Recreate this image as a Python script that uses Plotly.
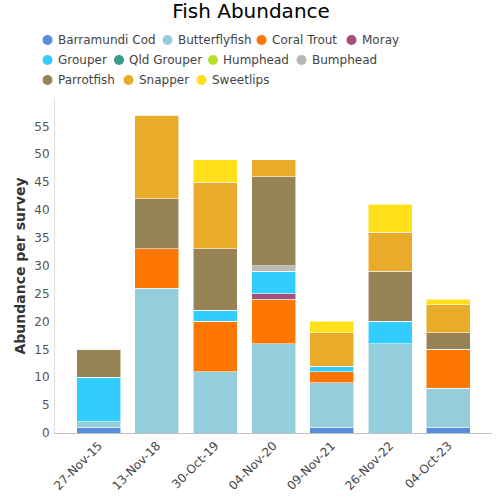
import plotly.graph_objects as go

dates = ["27-Nov-15", "13-Nov-18", "30-Oct-19", "04-Nov-20", "09-Nov-21", "26-Nov-22", "04-Oct-23"]

barramundi_cod = [1, 0, 0, 0, 1, 0, 1]
butterflyfish = [1, 26, 11, 16, 8, 16, 7]
coral_trout = [0, 7, 9, 8, 2, 0, 7]
moray = [0, 0, 0, 1, 0, 0, 0]
grouper = [8, 0, 2, 4, 1, 4, 0]
qld_grouper = [0, 0, 0, 0, 0, 0, 0]
humphead = [0, 0, 0, 0, 0, 0, 0]
bumphead = [0, 0, 0, 1, 0, 0, 0]
parrotfish = [5, 9, 11, 16, 0, 9, 3]
snapper = [0, 15, 12, 3, 6, 7, 5]
sweetlips = [0, 0, 4, 0, 2, 5, 1]

series_names = ["Barramundi Cod", "Butterflyfish", "Coral Trout", "Moray", "Grouper",
                "Qld Grouper", "Humphead", "Bumphead", "Parrotfish", "Snapper", "Sweetlips"]
series_values = [barramundi_cod, butterflyfish, coral_trout, moray, grouper,
                 qld_grouper, humphead, bumphead, parrotfish, snapper, sweetlips]
series_colors = ["#568fd9", "#94cddb", "#ff7700", "#a64f7a", "#33ccff",
                 "#389b92", "#b5e02c", "#b8b8b8", "#958355", "#e8ab2a", "#ffe01a"]

# geometry (the page's body margin is removed, so figure px == screen px)
W, H = 500, 500
SX0, SX1, SY0, SY1 = 55, 492, 99, 433
L, T = SX0, SY0
PW, PH = SX1 - SX0, SY1 - SY0
R, B = W - L - PW, H - T - PH

def px_to_paper_x(sx):
    return (sx - SX0) / PW

def py_to_paper_y(sy):
    return (SY1 - sy) / PH

fig = go.Figure()
for name, vals, color in zip(series_names, series_values, series_colors):
    fig.add_trace(go.Bar(
        x=dates, y=vals, name=name, showlegend=False,
        marker=dict(color=color, line=dict(color="rgba(255,255,255,0.55)", width=1)),
    ))

# custom legend laid out in rows like the reference (circle markers), screen px
legend_rows = [[0, 1, 2, 3], [4, 5, 6, 7], [8, 9, 10]]
legend_x = [[47.5, 167.5, 261.5, 351.5], [47.5, 119, 213, 301.5], [47.5, 128.5, 201.5]]
legend_y = [40, 60, 80]
shapes, annots = [], []
for row, xs, py in zip(legend_rows, legend_x, legend_y):
    for idx, px in zip(row, xs):
        xa, ya = px_to_paper_x(px), py_to_paper_y(py)
        shapes.append(dict(type="circle", xref="paper", yref="paper",
                           xsizemode="pixel", ysizemode="pixel",
                           xanchor=xa, yanchor=ya, x0=-5, x1=5, y0=-5, y1=5,
                           fillcolor=series_colors[idx], line=dict(width=0)))
        annots.append(dict(text=series_names[idx], xref="paper", yref="paper",
                           x=px_to_paper_x(px + 8), y=ya,
                           xanchor="left", yanchor="middle", showarrow=False,
                           font=dict(size=12, color="#444")))

fig.update_layout(
    width=W, height=H,
    barmode="stack", bargap=0.245,
    paper_bgcolor="white", plot_bgcolor="white",
    font=dict(family="DejaVu Sans", color="#444", size=12),
    title=dict(text="Fish Abundance", x=251 / W, xanchor="center",
               y=1 - 4 / H, yanchor="top", font=dict(size=20, color="#000")),
    margin=dict(l=L, r=R, t=T, b=B),
    showlegend=False,
    shapes=shapes,
    annotations=annots,
    xaxis=dict(range=[-0.75, 6.75], tickangle=-45, showline=True, linecolor="#c0c0c0", linewidth=1,
               showgrid=False, ticks="", tickfont=dict(size=12, color="#444")),
    yaxis=dict(range=[0, 59.9], dtick=5, showgrid=False, showline=True, linecolor="#dddddd",
               linewidth=1, zeroline=False, ticks="", ticklabelstandoff=2,
               tickfont=dict(size=12, color="#555"),
               title=dict(text="<b>Abundance per survey</b>", font=dict(size=14, color="#333"), standoff=5)),
)

fig.write_html("out.html", config={"displayModeBar": False},
               post_script="document.body.style.margin='0';")
